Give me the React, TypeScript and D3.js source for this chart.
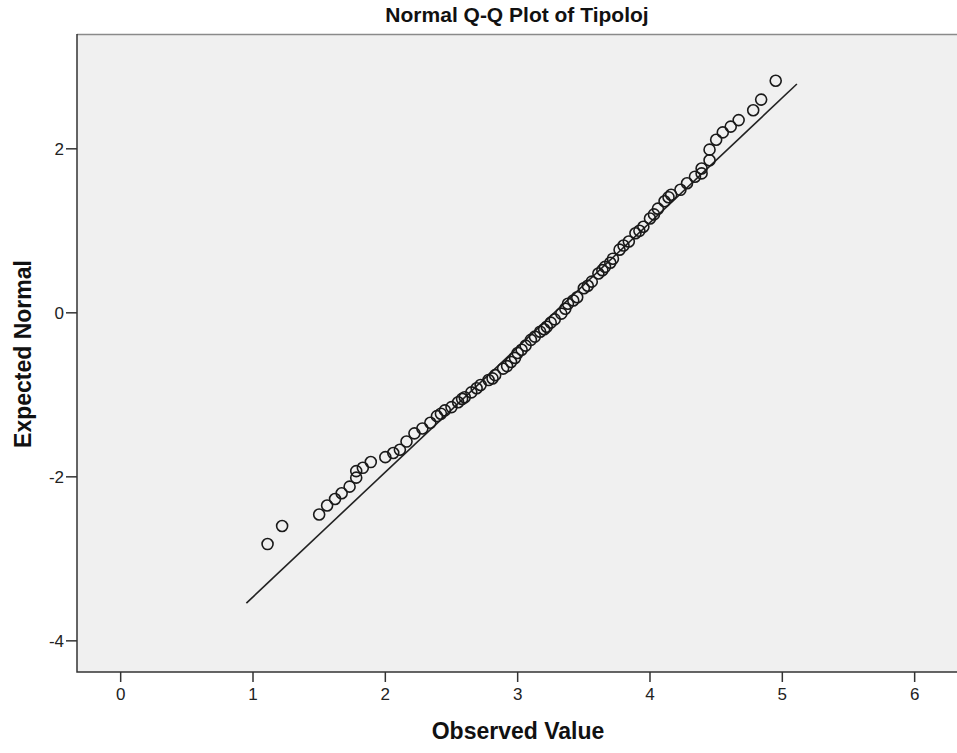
import React, { useEffect, useRef } from "react";
import * as d3 from "d3";

const observed = [
  1.11, 1.22, 1.5, 1.56, 1.62, 1.67, 1.73, 1.78, 1.78, 1.83, 1.89, 2.0, 2.06,
  2.11, 2.16, 2.22, 2.28, 2.34, 2.39, 2.45, 2.5, 2.55, 2.6, 2.65, 2.72, 2.78,
  2.83, 2.89, 2.95, 3.0, 3.06, 3.1, 3.17, 3.22, 3.28, 3.33, 3.38, 3.45, 3.5,
  3.56, 3.61, 3.66, 3.72, 3.77, 3.84, 3.89, 3.95, 4.0, 4.06, 4.11, 4.16, 4.23,
  4.28, 4.34, 4.39, 4.39, 4.45, 4.45, 4.5, 4.55, 4.61, 4.67, 4.78, 4.84, 4.95,
  // overlapping circles in the dense middle
  2.42, 2.58, 2.69, 2.81, 2.92, 2.98, 3.03, 3.13, 3.2, 3.25, 3.36, 3.42,
  3.53, 3.64, 3.7, 3.8, 3.92, 4.03, 4.14,
];
const expected = [
  -2.82, -2.6, -2.46, -2.35, -2.27, -2.2, -2.12, -2.01, -1.93, -1.89, -1.82,
  -1.76, -1.71, -1.67, -1.57, -1.47, -1.41, -1.34, -1.26, -1.19, -1.15, -1.09,
  -1.03, -0.97, -0.88, -0.82, -0.76, -0.68, -0.6, -0.49, -0.4, -0.33, -0.23,
  -0.17, -0.08, -0.01, 0.11, 0.19, 0.3, 0.38, 0.48, 0.56, 0.66, 0.77, 0.87,
  0.97, 1.05, 1.15, 1.27, 1.36, 1.44, 1.5, 1.58, 1.66, 1.7, 1.76, 1.86, 1.99,
  2.11, 2.2, 2.27, 2.35, 2.47, 2.6, 2.83,
  -1.23, -1.05, -0.92, -0.8, -0.65, -0.55, -0.45, -0.29, -0.2, -0.12, 0.05,
  0.15, 0.33, 0.52, 0.61, 0.82, 1.0, 1.2, 1.41,
];

// reference line ends
const lineX = [0.95, 5.11];
const lineY = [-3.54, 2.79];

const xTicks = [0, 1, 2, 3, 4, 5, 6];
const yTicks = [2, 0, -2, -4];

const W = 957;
const H = 753;
const FONT = "'Liberation Sans', Arial, sans-serif";

const App = () => {
  const svgRef = useRef<SVGSVGElement>(null);

  useEffect(() => {
    const svg = d3.select(svgRef.current);
    svg.selectAll("*").remove();

    const left = 77, right = 957, top = 34, bottom = 672;

    const x = d3.scaleLinear().domain([-0.33, 6.32]).range([left, right]);
    const y = d3.scaleLinear().domain([-4.38, 3.4]).range([bottom, top]);

    // plot background
    svg
      .append("rect")
      .attr("x", left)
      .attr("y", top)
      .attr("width", right - left)
      .attr("height", bottom - top)
      .attr("fill", "#f0f0f0");

    svg
      .append("line")
      .attr("x1", left)
      .attr("x2", right)
      .attr("y1", top + 0.5)
      .attr("y2", top + 0.5)
      .attr("stroke", "#8a8a8a")
      .attr("stroke-width", 1.5);

    svg
      .append("path")
      .attr("d", `M${left},${top}V${bottom}H${right}`)
      .attr("fill", "none")
      .attr("stroke", "#333")
      .attr("stroke-width", 1.5);

    // ticks
    const xa = svg.append("g");
    xTicks.forEach((t) => {
      xa.append("line")
        .attr("x1", x(t))
        .attr("x2", x(t))
        .attr("y1", bottom)
        .attr("y2", bottom + 10)
        .attr("stroke", "#333")
        .attr("stroke-width", 1.5);
      xa.append("text")
        .attr("x", x(t))
        .attr("y", bottom + 28)
        .attr("text-anchor", "middle")
        .attr("font-family", FONT)
        .attr("font-size", 17)
        .attr("fill", "#222")
        .text(t);
    });

    const ya = svg.append("g");
    yTicks.forEach((t) => {
      ya.append("line")
        .attr("x1", left - 11)
        .attr("x2", left)
        .attr("y1", y(t))
        .attr("y2", y(t))
        .attr("stroke", "#333")
        .attr("stroke-width", 1.5);
      ya.append("text")
        .attr("x", left - 13)
        .attr("y", y(t) + 6)
        .attr("text-anchor", "end")
        .attr("font-family", FONT)
        .attr("font-size", 17)
        .attr("fill", "#222")
        .text(t);
    });

    // reference line
    svg
      .append("line")
      .attr("x1", x(lineX[0]))
      .attr("y1", y(lineY[0]))
      .attr("x2", x(lineX[1]))
      .attr("y2", y(lineY[1]))
      .attr("stroke", "#222")
      .attr("stroke-width", 1.6);

    // points
    svg
      .append("g")
      .selectAll("circle")
      .data(observed)
      .enter()
      .append("circle")
      .attr("cx", (d) => x(d))
      .attr("cy", (d, i) => y(expected[i]))
      .attr("r", 5.5)
      .attr("fill", "none")
      .attr("stroke", "#1a1a1a")
      .attr("stroke-width", 1.6);

    // titles
    svg
      .append("text")
      .attr("x", 517)
      .attr("y", 22)
      .attr("text-anchor", "middle")
      .attr("font-family", FONT)
      .attr("font-weight", "bold")
      .attr("font-size", 21)
      .attr("fill", "#111")
      .text("Normal Q-Q Plot of Tipoloj");

    svg
      .append("text")
      .attr("x", 518)
      .attr("y", 739)
      .attr("text-anchor", "middle")
      .attr("font-family", FONT)
      .attr("font-weight", "bold")
      .attr("font-size", 23)
      .attr("fill", "#111")
      .text("Observed Value");

    svg
      .append("text")
      .attr("transform", `translate(31,354) rotate(-90)`)
      .attr("text-anchor", "middle")
      .attr("font-family", FONT)
      .attr("font-weight", "bold")
      .attr("font-size", 23)
      .attr("fill", "#111")
      .text("Expected Normal");
  }, []);

  return (
    <svg
      ref={svgRef}
      width={W}
      height={H}
      style={{ position: "absolute", left: 0, top: 0, background: "#fff" }}
    ></svg>
  );
};

export default App;
